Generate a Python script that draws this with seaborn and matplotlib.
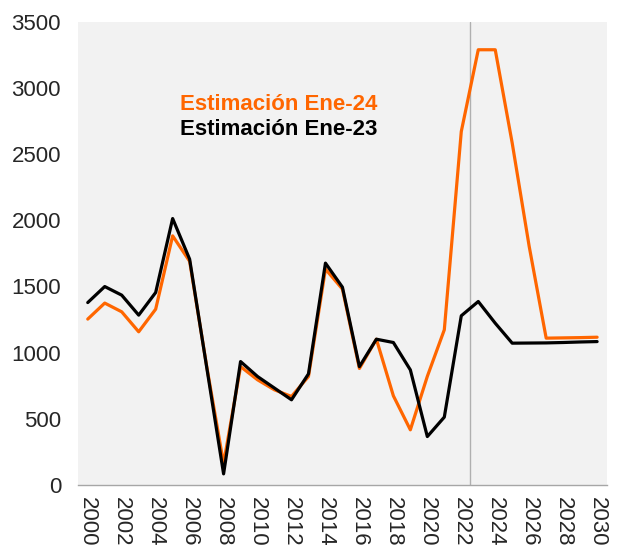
import pandas as pd
import seaborn as sns
import matplotlib.pyplot as plt

# Años y dos estimaciones
years = list(range(2000, 2031))
est_ene24 = [1253, 1374, 1308, 1157, 1328, 1882, 1690, 900, 160, 894, 794,
             718, 668, 819, 1631, 1480, 880, 1101, 673, 416, 820, 1172,
             2671, 3289, 3289, 2583, 1802, 1109, 1111, 1113, 1116]
est_ene23 = [1378, 1499, 1434, 1283, 1454, 2013, 1706, 893, 83, 932, 819,
             731, 643, 839, 1676, 1494, 894, 1101, 1076, 869, 365, 512,
             1278, 1386, 1222, 1071, 1072, 1073, 1076, 1080, 1083]
series_names = ["Estimación Ene-24", "Estimación Ene-23"]
series_colors = ["#ff6600", "#000000"]
x_ticks = list(range(2000, 2031, 2))
y_ticks = list(range(0, 3501, 500))

df = pd.DataFrame({
    "year": years * 2,
    "value": est_ene24 + est_ene23,
    "serie": [series_names[0]] * len(years) + [series_names[1]] * len(years),
})

sns.set_theme(style="white")
plt.rcParams["font.family"] = ["Liberation Sans", "DejaVu Sans"]

fig = plt.figure(figsize=(6.17, 5.46), dpi=100)
ax = fig.add_axes([0.126, 0.112, 0.858, 0.848])
ax.set_facecolor("#f2f2f2")

sns.lineplot(data=df, x="year", y="value", hue="serie",
             palette=dict(zip(series_names, series_colors)),
             linewidth=2.3, legend=False, ax=ax)

ax.axvline(2022.5, color="#b0b0b0", linewidth=1, zorder=0)

ax.set_xlim(1999.41, 2030.59)
ax.set_ylim(0, 3500)
ax.set_xticks(x_ticks)
ax.set_xticklabels([str(t) for t in x_ticks], rotation=270, fontsize=16)
ax.set_yticks(y_ticks)
ax.set_yticklabels([str(t) for t in y_ticks], fontsize=16)
ax.tick_params(axis="y", length=0, pad=12)
ax.tick_params(axis="x", length=0, pad=9)
ax.set_xlabel("")
ax.set_ylabel("")

for side in ["top", "right", "left"]:
    ax.spines[side].set_visible(False)
ax.spines["bottom"].set_color("#a6a6a6")
ax.spines["bottom"].set_linewidth(1)

ax.text(0.194, 0.821, series_names[0], transform=ax.transAxes, va="center",
        color=series_colors[0], fontsize=16, fontweight="bold")
ax.text(0.194, 0.767, series_names[1], transform=ax.transAxes, va="center",
        color=series_colors[1], fontsize=16, fontweight="bold")

fig.savefig("out.png", dpi=100)
